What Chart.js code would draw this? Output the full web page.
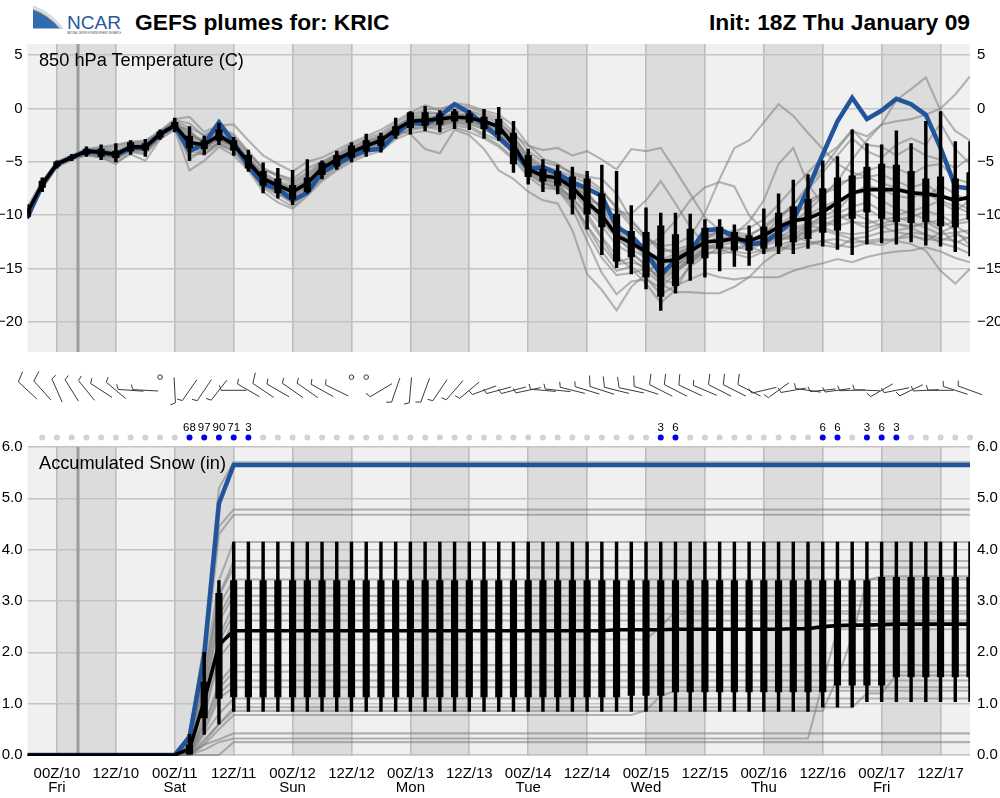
<!DOCTYPE html>
<html><head><meta charset="utf-8">
<style>
html,body{margin:0;padding:0;background:#fff;width:1000px;height:798px;overflow:hidden;font-family:"Liberation Sans",Arial,sans-serif}
canvas{position:absolute;left:0}
.t{position:absolute;color:#000;white-space:nowrap}
</style>
<script src="https://cdn.jsdelivr.net/npm/chart.js@4/dist/chart.umd.min.js"></script>
</head><body>
<svg style="position:absolute;left:33px;top:5px" width="92" height="32" viewBox="0 0 92 32">
<path d="M0,1 Q18,7 30,23.5 L0,23.5 Z" fill="#2f6db0"/>
<path d="M0,1 Q18,7 30,23.5 L27,23.5 Q15,9 0,4 Z" fill="#d5e4f2"/>
<path d="M0,4.5 Q15,9.5 26.5,23" fill="none" stroke="#e9a15c" stroke-width="1"/>
<text x="34" y="24" font-family="Liberation Sans" font-size="19" textLength="54" lengthAdjust="spacingAndGlyphs" fill="#2a5a9a">NCAR</text>
<text x="34" y="28.5" font-family="Liberation Sans" font-size="3.2" textLength="54" lengthAdjust="spacingAndGlyphs" fill="#444">NATIONAL CENTER FOR ATMOSPHERIC RESEARCH</text>
</svg>
<div class="t" style="left:135px;top:8px;font-size:22.8px;font-weight:bold;line-height:28px">GEFS plumes for: KRIC</div>
<div class="t" style="right:30px;top:8px;font-size:22.8px;font-weight:bold;line-height:28px">Init: 18Z Thu January 09</div>
<canvas id="top" width="1000" height="340" style="top:27.5px"></canvas>
<canvas id="mid" width="1000" height="86" style="top:360px"></canvas>
<canvas id="bot" width="1000" height="368" style="top:431px"></canvas>
<div class="t" style="left:39px;top:50px;font-size:18.2px;line-height:20px;z-index:3">850 hPa Temperature (C)</div>
<div class="t" style="left:39px;top:453px;font-size:18.2px;line-height:20px;z-index:3">Accumulated Snow (in)</div>
<script>
const tickIndex=[2,6,10,14,18,22,26,30,34,38,42,46,50,54,58,62];
const tickLabels=[["00Z/10","Fri"],["12Z/10"],["00Z/11","Sat"],["12Z/11"],["00Z/12","Sun"],["12Z/12"],["00Z/13","Mon"],["12Z/13"],["00Z/14","Tue"],["12Z/14"],["00Z/15","Wed"],["12Z/15"],["00Z/16","Thu"],["12Z/16"],["00Z/17","Fri"],["12Z/17"]];
const dayBandStart=[2,10,18,26,34,42,50,58];
const dayBandEnd=[6,14,22,30,38,46,54,62];
const nowIndex=3.43;
const tempTicks=[5,0,-5,-10,-15,-20];
const snowTicks=[0,1,2,3,4,5,6];

const tempControl=[-10.2,-7.2,-5.2,-4.6,-4.0,-4.1,-4.4,-3.7,-3.7,-2.4,-1.6,-4.0,-3.3,-1.3,-3.2,-5.4,-7.1,-7.5,-8.6,-7.9,-6.0,-5.2,-4.5,-3.9,-3.8,-2.4,-1.3,-1.5,-0.7,0.4,-0.4,-1.5,-2.7,-4.0,-5.7,-5.5,-6.1,-6.9,-7.5,-8.2,-11.1,-11.9,-13.4,-15.6,-14.2,-13.4,-11.4,-11.3,-12.0,-12.7,-12.6,-11.6,-10.5,-7.5,-4.3,-1.2,1.0,-1.0,-0.2,0.9,0.4,-0.6,-3.7,-7.3,-7.5];
const tempMedian=[-9.7,-7.1,-5.2,-4.6,-4.0,-4.1,-4.3,-3.6,-3.6,-2.4,-1.6,-3.2,-3.4,-2.5,-3.4,-5.0,-6.6,-7.2,-7.8,-7.0,-5.6,-4.8,-4.1,-3.5,-3.0,-2.0,-1.2,-1.1,-1.0,-0.8,-0.9,-1.2,-1.7,-3.4,-5.7,-6.3,-6.5,-7.4,-8.8,-10.0,-11.9,-12.6,-13.4,-14.3,-14.2,-13.4,-12.5,-12.4,-12.2,-12.4,-11.9,-11.1,-10.5,-10.3,-9.7,-8.8,-7.9,-7.6,-7.6,-7.6,-7.9,-8.0,-8.2,-8.6,-8.3];
const tempBoxLow=[-10.1,-7.4,-5.4,-4.7,-4.3,-4.5,-4.6,-4.0,-3.9,-2.7,-1.9,-3.7,-3.8,-3.0,-3.9,-5.6,-7.2,-7.9,-8.5,-7.8,-6.2,-5.4,-4.6,-4.0,-3.5,-2.5,-1.8,-1.6,-1.5,-1.2,-1.3,-1.9,-2.4,-5.2,-6.4,-6.8,-7.2,-8.5,-9.9,-11.1,-14.3,-13.9,-15.8,-17.6,-16.6,-14.5,-14.0,-13.1,-13.3,-13.3,-13.1,-12.9,-12.5,-12.2,-11.6,-11.4,-10.3,-9.7,-10.3,-10.6,-10.7,-10.6,-11.0,-11.1,-10.4];
const tempBoxHigh=[-9.4,-6.8,-5.0,-4.5,-3.8,-3.8,-4.0,-3.2,-3.3,-2.2,-1.3,-2.6,-3.0,-2.0,-3.0,-4.4,-5.9,-6.6,-7.2,-6.5,-5.1,-4.4,-3.5,-3.0,-2.6,-1.7,-0.4,-0.4,-0.5,-0.3,-0.5,-0.8,-1.0,-2.3,-4.4,-5.7,-5.9,-6.4,-6.6,-8.0,-9.9,-11.5,-11.6,-11.0,-11.8,-11.3,-11.2,-11.1,-11.6,-11.9,-11.1,-9.8,-9.2,-8.5,-7.5,-6.5,-6.3,-5.5,-5.2,-5.3,-5.9,-6.6,-6.4,-6.6,-6.0];
const tempWhiskLow=[-10.3,-7.8,-5.6,-4.9,-4.5,-4.8,-5.0,-4.3,-4.5,-2.9,-2.2,-4.9,-4.3,-3.4,-4.4,-5.9,-7.9,-8.4,-9.0,-7.9,-6.6,-5.7,-5.0,-4.5,-4.1,-2.8,-2.4,-2.1,-2.2,-1.9,-2.0,-2.8,-3.0,-6.0,-7.1,-7.8,-8.0,-9.9,-11.3,-13.7,-14.9,-15.5,-16.9,-18.9,-17.3,-16.1,-15.8,-15.2,-14.8,-14.7,-13.6,-13.6,-13.6,-13.1,-12.9,-13.2,-13.7,-12.7,-12.6,-12.7,-12.5,-12.8,-12.9,-13.4,-13.8];
const tempWhiskHigh=[-9.0,-6.5,-4.9,-4.3,-3.6,-3.4,-3.3,-3.0,-2.9,-2.0,-0.9,-1.7,-2.6,-1.4,-2.7,-3.9,-5.1,-5.6,-5.8,-4.8,-4.9,-4.0,-3.2,-2.4,-2.3,-0.9,-0.3,0.2,-0.2,0.0,-0.2,0.0,0.1,-1.2,-3.8,-4.8,-5.3,-5.5,-5.9,-5.3,-5.9,-9.1,-9.3,-9.8,-9.8,-9.9,-10.4,-10.4,-10.9,-11.0,-9.4,-8.0,-6.7,-6.2,-4.9,-4.5,-2.0,-3.3,-3.4,-2.1,-3.3,-1.2,-0.3,-3.1,-3.1];

const tempMember1=[-9.2,-6.8,-5.0,-4.4,-3.8,-3.6,-3.4,-3.1,-3.0,-2.1,-1.0,-0.8,-2.2,-1.6,-1.5,-3.0,-4.4,-5.2,-5.9,-5.0,-4.6,-3.9,-3.2,-2.6,-2.0,-1.2,-0.4,0.3,-0.2,0.5,0.3,-0.2,-0.6,-1.6,-3.4,-4.7,-5.2,-6.2,-6.6,-7.6,-9.4,-11.0,-12.2,-12.9,-12.7,-12.0,-9.8,-6.6,-3.7,-3.0,-1.3,0.4,-0.7,-2.3,-3.8,-5.2,-6.0,-6.4,-6.2,-6.8,-7.4,-7.0,-8.2,-8.8,-9.5];
const tempMember2=[-9.6,-7.0,-5.1,-4.5,-4.0,-3.9,-4.0,-3.5,-3.4,-2.3,-1.4,-2.6,-2.9,-2.0,-2.8,-4.2,-5.8,-6.2,-6.8,-6.0,-5.0,-4.4,-3.7,-3.0,-2.7,-1.7,-0.9,-0.6,-0.4,-0.2,-0.3,-0.8,-1.4,-2.4,-3.5,-3.9,-3.7,-4.4,-4.0,-4.8,-5.7,-3.8,-4.0,-3.7,-5.8,-8.0,-10.2,-11.4,-12.3,-12.6,-12.2,-11.6,-10.8,-10.0,-9.2,-8.6,-8.0,-7.8,-8.6,-9.4,-9.8,-10.4,-11.0,-10.6,-10.2];
const tempMember3=[-10.0,-7.3,-5.3,-4.7,-4.2,-4.3,-4.7,-3.9,-3.9,-2.6,-1.8,-4.4,-4.2,-3.2,-3.8,-5.4,-7.2,-7.9,-8.7,-7.6,-6.2,-5.2,-4.6,-4.0,-3.4,-2.4,-1.6,-1.3,-1.2,-1.0,-1.2,-1.6,-2.2,-3.2,-5.6,-6.6,-7.0,-8.6,-11.6,-14.0,-15.6,-15.4,-15.0,-14.8,-14.0,-13.2,-12.4,-12.2,-12.0,-12.2,-12.0,-11.2,-10.6,-9.6,-8.2,-6.8,-4.8,-3.0,-1.5,0.8,1.8,2.9,-0.2,-2.1,-3.0];
const tempMember4=[-9.8,-7.1,-5.2,-4.6,-4.1,-4.0,-4.2,-3.6,-3.7,-2.5,-1.5,-3.0,-3.6,-2.8,-3.4,-4.8,-6.4,-7.0,-7.4,-6.8,-5.4,-4.6,-4.0,-3.4,-2.9,-2.1,-1.4,-1.0,-1.1,-0.4,-0.6,-1.0,-1.8,-3.0,-4.8,-6.0,-6.4,-7.0,-8.0,-9.4,-11.0,-12.2,-13.4,-14.0,-14.6,-14.2,-13.0,-12.8,-12.6,-12.4,-11.8,-10.4,-9.0,-7.2,-5.6,-3.8,-2.1,-2.6,-1.5,-1.2,-1.0,-0.6,0.0,1.3,3.0];
const tempMember5=[-10.2,-7.5,-5.5,-4.8,-4.4,-4.6,-5.0,-4.3,-4.9,-2.9,-2.0,-5.8,-4.9,-3.6,-4.4,-5.8,-7.8,-8.8,-9.4,-8.2,-6.8,-5.8,-5.0,-4.4,-4.0,-2.9,-2.3,-2.1,-2.4,-1.8,-2.2,-2.8,-3.6,-4.8,-6.4,-7.4,-7.6,-9.4,-12.4,-15.4,-17.4,-16.2,-16.0,-16.8,-15.4,-14.2,-13.4,-13.6,-13.4,-13.6,-13.2,-13.0,-13.2,-12.8,-12.4,-12.2,-12.6,-12.4,-12.2,-12.4,-12.7,-13.3,-15.2,-16.4,-15.0];
const tempMember6=[-9.9,-7.2,-5.3,-4.7,-4.3,-4.4,-4.8,-4.0,-4.2,-2.7,-1.7,-3.4,-4.4,-3.0,-3.6,-5.2,-7.0,-8.0,-8.9,-7.9,-6.4,-5.4,-4.7,-4.1,-3.6,-2.6,-2.0,-1.8,-1.7,-1.4,-1.6,-2.4,-3.0,-4.2,-6.0,-6.8,-7.4,-8.8,-11.0,-13.4,-15.2,-14.8,-15.8,-17.4,-16.6,-16.0,-15.4,-15.8,-16.0,-15.8,-15.8,-15.8,-15.2,-14.8,-14.5,-14.1,-14.4,-13.9,-13.6,-13.4,-13.3,-13.0,-13.4,-14.0,-14.4];
const tempMember7=[-10.1,-7.4,-5.4,-4.6,-4.2,-4.5,-4.5,-3.8,-3.7,-2.6,-1.6,-3.8,-3.9,-2.4,-3.2,-5.0,-6.8,-7.6,-8.4,-7.4,-6.0,-5.0,-4.4,-3.7,-3.2,-2.3,-1.6,-1.5,-1.6,-1.2,-1.4,-2.0,-2.6,-4.0,-5.8,-6.6,-7.2,-8.4,-10.2,-12.2,-14.4,-14.0,-15.2,-16.4,-17.2,-17.2,-17.3,-17.3,-16.7,-15.8,-14.4,-13.4,-12.8,-12.6,-12.4,-12.8,-13.0,-12.6,-12.4,-12.2,-12.0,-12.2,-12.4,-11.8,-12.2];
const tempMember8=[-9.7,-7.0,-5.1,-4.5,-4.0,-4.2,-4.3,-3.6,-3.5,-2.4,-1.3,-2.2,-3.3,-2.6,-3.0,-4.6,-6.2,-7.2,-8.0,-7.2,-5.8,-4.9,-4.2,-3.6,-3.1,-2.0,-2.4,-3.8,-4.2,-2.0,-2.5,-3.8,-5.8,-6.6,-7.8,-8.6,-8.9,-11.4,-15.5,-17.0,-18.9,-16.7,-15.5,-14.2,-13.6,-13.0,-12.6,-12.2,-12.4,-13.0,-13.4,-13.2,-12.6,-11.8,-11.0,-10.2,-9.8,-10.4,-11.0,-11.6,-11.8,-12.4,-11.6,-11.0,-11.8];
const tempMember9=[-9.5,-6.9,-5.0,-4.4,-3.9,-3.8,-3.7,-3.3,-3.2,-2.2,-1.2,-1.8,-2.5,-1.8,-2.4,-4.0,-5.6,-6.4,-7.0,-6.2,-5.2,-4.4,-3.6,-3.0,-2.5,-1.6,-1.0,-0.8,-0.7,-0.5,-0.7,-1.2,-1.9,-3.0,-5.0,-6.4,-6.6,-7.6,-8.6,-9.0,-9.6,-9.9,-8.6,-6.8,-8.9,-11.1,-12.8,-13.2,-13.6,-14.0,-13.4,-12.8,-12.4,-11.0,-10.0,-9.6,-8.0,-7.2,-7.6,-8.2,-8.4,-7.8,-8.8,-9.6,-8.6];
const tempMember10=[-9.9,-7.2,-5.2,-4.6,-4.1,-4.1,-4.4,-3.7,-3.6,-2.5,-1.6,-3.2,-3.7,-2.6,-3.6,-5.0,-6.6,-7.4,-7.9,-7.0,-5.6,-4.8,-4.2,-3.5,-3.0,-2.0,-1.2,-1.1,-0.9,-0.7,-0.9,-1.4,-2.0,-3.4,-5.4,-6.2,-6.6,-7.4,-8.8,-10.2,-11.8,-13.0,-13.0,-12.0,-10.5,-8.6,-7.4,-6.9,-7.3,-10.0,-11.4,-12.2,-12.2,-11.6,-11.2,-10.4,-9.8,-9.4,-10.2,-10.8,-11.2,-10.6,-11.4,-12.6,-12.0];
const tempMember11=[-10.0,-7.3,-5.3,-4.7,-4.2,-4.2,-4.6,-3.8,-3.8,-2.5,-1.8,-3.6,-3.4,-2.7,-3.6,-5.4,-7.0,-7.6,-8.2,-7.4,-5.8,-5.0,-4.3,-3.8,-3.2,-2.3,-1.5,-1.4,-1.3,-1.0,-1.0,-1.6,-2.4,-3.6,-5.6,-6.4,-7.0,-7.8,-9.0,-10.6,-12.2,-13.2,-14.0,-15.6,-15.0,-14.2,-13.2,-12.8,-11.8,-10.6,-8.6,-5.2,-3.7,-7.1,-9.0,-9.8,-9.2,-8.8,-9.6,-10.0,-9.6,-9.2,-8.6,-9.2,-9.8];
const tempMember12=[-9.8,-7.1,-5.2,-4.6,-4.0,-4.0,-4.1,-3.5,-3.4,-2.3,-1.5,-2.8,-3.0,-2.2,-3.0,-4.6,-6.0,-6.8,-7.2,-6.4,-5.2,-4.6,-3.9,-3.2,-2.8,-1.8,-0.8,-0.3,-0.5,0.0,-0.2,-0.6,-1.2,-2.6,-4.6,-5.6,-6.0,-6.8,-7.8,-9.6,-11.4,-12.4,-13.6,-15.0,-14.6,-13.8,-12.6,-12.0,-12.2,-12.6,-12.8,-12.4,-11.8,-11.0,-10.6,-11.0,-10.6,-10.8,-10.4,-10.2,-10.6,-11.2,-11.8,-11.6,-11.4];
const tempMember13=[-9.6,-7.0,-5.1,-4.5,-4.0,-3.9,-4.0,-3.4,-3.3,-2.3,-1.4,-2.4,-3.1,-2.3,-3.2,-4.7,-6.2,-6.9,-7.5,-6.6,-5.3,-4.5,-3.8,-3.2,-2.7,-1.9,-1.1,-0.9,-0.8,-0.6,-0.8,-1.1,-1.7,-2.8,-4.4,-5.4,-5.8,-6.4,-7.0,-7.8,-9.2,-10.6,-12.0,-13.4,-13.2,-12.8,-12.0,-11.6,-11.6,-11.8,-11.2,-10.2,-9.0,-7.6,-6.0,-4.4,-2.8,-4.0,-4.6,-3.4,-2.8,-3.4,-1.4,-3.8,-5.2];
const tempMember14=[-10.2,-7.4,-5.4,-4.7,-4.3,-4.6,-5.2,-4.1,-4.3,-2.8,-1.9,-4.0,-4.3,-3.4,-4.0,-5.6,-7.4,-8.4,-9.2,-8.0,-6.6,-5.6,-4.8,-4.2,-3.7,-2.7,-1.9,-1.7,-2.0,-1.6,-1.8,-2.6,-3.4,-4.6,-6.2,-7.0,-7.6,-9.0,-11.0,-12.8,-14.6,-14.4,-14.8,-16.0,-16.4,-14.8,-13.8,-13.0,-13.0,-13.2,-12.6,-12.0,-11.8,-11.6,-11.4,-11.8,-12.2,-12.6,-12.8,-12.2,-11.6,-11.8,-12.6,-13.0,-13.6];
const tempMember15=[-9.7,-7.1,-5.2,-4.5,-4.1,-4.1,-4.2,-3.6,-3.6,-2.4,-1.7,-3.0,-3.2,-2.9,-3.3,-4.9,-6.6,-7.2,-7.6,-6.8,-5.6,-4.7,-4.0,-3.4,-2.9,-2.0,-1.3,-1.2,-1.0,-0.9,-1.0,-1.3,-2.0,-3.2,-5.2,-5.8,-6.2,-7.0,-8.4,-10.0,-11.6,-12.6,-14.0,-15.2,-14.8,-13.6,-12.2,-11.4,-11.8,-12.0,-11.0,-10.0,-9.4,-8.6,-8.0,-7.4,-6.4,-5.8,-5.4,-5.6,-6.2,-5.4,-5.2,-6.6,-7.0];
const tempMember16=[-10.0,-7.2,-5.3,-4.6,-4.1,-4.3,-4.4,-3.7,-3.9,-2.5,-1.6,-3.2,-3.8,-2.8,-3.5,-5.1,-6.8,-7.5,-8.1,-7.1,-5.7,-4.9,-4.2,-3.6,-3.1,-2.2,-1.4,-1.6,-1.5,-1.1,-1.1,-1.8,-2.6,-3.8,-5.8,-6.6,-6.9,-7.8,-9.4,-11.0,-12.8,-13.6,-14.6,-16.2,-15.2,-14.4,-13.6,-13.4,-13.0,-12.8,-12.2,-11.6,-11.2,-10.8,-10.4,-10.0,-10.6,-11.2,-10.8,-10.4,-10.2,-9.6,-10.0,-10.8,-10.6];
const tempMember17=[-9.4,-6.9,-5.1,-4.4,-3.9,-3.7,-3.5,-3.2,-3.1,-2.2,-1.1,-1.4,-2.6,-1.9,-2.6,-4.2,-5.6,-6.2,-6.6,-5.6,-5.0,-4.2,-3.4,-2.8,-2.3,-1.4,-0.6,-0.1,0.0,0.2,0.1,-0.4,-0.9,-2.2,-4.0,-5.0,-5.4,-6.0,-6.4,-6.6,-8.0,-10.4,-12.0,-13.0,-13.6,-13.0,-12.2,-11.8,-11.4,-11.2,-10.4,-9.0,-7.4,-6.0,-4.6,-3.6,-2.0,-3.4,-3.6,-4.4,-3.6,-4.4,-4.8,-5.6,-4.6];
const tempMember18=[-10.1,-7.3,-5.4,-4.7,-4.3,-4.4,-4.6,-3.9,-4.0,-2.7,-1.8,-4.8,-3.8,-3.3,-4.0,-5.6,-7.4,-8.0,-8.6,-7.7,-6.2,-5.3,-4.5,-3.9,-3.5,-2.5,-1.8,-1.4,-1.4,-1.3,-1.4,-1.9,-2.8,-4.0,-6.0,-7.0,-7.4,-8.4,-9.8,-12.0,-13.8,-15.0,-16.4,-18.2,-17.0,-14.6,-13.2,-13.0,-13.2,-12.8,-12.4,-12.0,-11.4,-11.0,-11.2,-11.6,-11.8,-11.6,-11.0,-10.8,-11.0,-10.8,-10.4,-11.4,-12.8];
const tempMember19=[-9.8,-7.1,-5.2,-4.6,-4.0,-4.1,-4.3,-3.7,-3.5,-2.4,-1.6,-2.0,-3.4,-2.5,-3.3,-4.9,-6.4,-7.1,-7.7,-6.9,-5.5,-4.7,-4.1,-3.3,-2.9,-2.2,-1.1,-0.9,-1.0,-0.8,-0.6,-1.1,-1.6,-2.6,-4.6,-5.8,-6.4,-7.2,-8.2,-9.2,-10.6,-12.4,-13.8,-14.6,-13.8,-13.2,-11.8,-11.6,-12.2,-12.4,-11.6,-11.0,-10.0,-9.0,-8.0,-7.0,-6.6,-6.4,-7.0,-7.4,-7.8,-8.4,-7.2,-8.0,-8.8];
const tempMember20=[-10.0,-7.3,-5.3,-4.6,-4.1,-4.2,-4.4,-3.8,-3.8,-2.5,-1.7,-3.3,-3.5,-3.0,-3.5,-5.2,-6.9,-7.6,-8.0,-7.2,-5.9,-4.9,-4.2,-3.7,-3.2,-2.2,-1.5,-1.3,-1.4,-0.9,-1.1,-1.7,-2.3,-3.6,-5.2,-6.2,-6.8,-7.6,-8.6,-10.4,-12.0,-13.4,-14.8,-15.8,-15.2,-14.0,-13.0,-12.6,-12.4,-12.6,-12.6,-12.2,-12.0,-12.4,-12.8,-13.0,-12.2,-12.0,-11.6,-11.4,-11.2,-11.8,-12.2,-12.4,-13.0];
const tempMembers=[tempMember1,tempMember2,tempMember3,tempMember4,tempMember5,tempMember6,tempMember7,tempMember8,tempMember9,tempMember10,tempMember11,tempMember12,tempMember13,tempMember14,tempMember15,tempMember16,tempMember17,tempMember18,tempMember19,tempMember20];

const windDirection=[313,318,336,328,321,303,310,274,273,0,177,215,214,218,270,300,304,300,305,305,299,296,0,0,239,199,185,200,214,221,230,250,255,255,258,275,276,284,287,288,284,282,288,297,297,295,293,297,297,297,257,234,260,278,264,262,268,272,240,259,244,267,270,288,290];
const windSpeed=[10,10,5,5,5,5,5,5,5,0,5,5,5,5,5,5,10,5,5,5,5,5,0,0,5,5,5,5,5,5,5,5,5,5,5,5,5,5,5,10,10,10,10,10,10,10,5,10,10,10,5,5,5,5,5,5,5,5,5,5,5,5,5,5,5];
const snowChance=[null,0,0,0,0,0,0,0,0,0,0,68,97,90,71,3,0,0,0,0,0,0,0,0,0,0,0,0,0,0,0,0,0,0,0,0,0,0,0,0,0,0,0,3,6,0,0,0,0,0,0,0,0,0,6,6,0,3,6,3,0,0,0,0,0];

const snowControl=[0,0,0,0,0,0,0,0,0,0,0,0.35,1.95,4.9,5.65,5.65,5.65,5.65,5.65,5.65,5.65,5.65,5.65,5.65,5.65,5.65,5.65,5.65,5.65,5.65,5.65,5.65,5.65,5.65,5.65,5.65,5.65,5.65,5.65,5.65,5.65,5.65,5.65,5.65,5.65,5.65,5.65,5.65,5.65,5.65,5.65,5.65,5.65,5.65,5.65,5.65,5.65,5.65,5.65,5.65,5.65,5.65,5.65,5.65,5.65];
const snowMedian=[0,0,0,0,0,0,0,0,0,0,0,0.12,1.05,2.15,2.42,2.42,2.42,2.42,2.42,2.42,2.42,2.42,2.42,2.42,2.42,2.42,2.42,2.42,2.42,2.42,2.42,2.42,2.42,2.42,2.42,2.42,2.42,2.42,2.42,2.42,2.44,2.44,2.44,2.44,2.45,2.45,2.45,2.45,2.45,2.45,2.45,2.45,2.46,2.46,2.5,2.52,2.53,2.53,2.54,2.55,2.55,2.55,2.55,2.55,2.55];
const snowBoxLow=[0,0,0,0,0,0,0,0,0,0,0,0,0.72,1.1,1.13,1.13,1.13,1.13,1.13,1.13,1.13,1.13,1.13,1.13,1.13,1.13,1.13,1.13,1.13,1.13,1.13,1.13,1.13,1.13,1.13,1.13,1.13,1.13,1.13,1.13,1.13,1.16,1.16,1.16,1.23,1.23,1.23,1.23,1.23,1.23,1.23,1.23,1.23,1.23,1.23,1.36,1.36,1.36,1.36,1.52,1.52,1.52,1.52,1.52,1.52];
const snowBoxHigh=[0,0,0,0,0,0,0,0,0,0,0,0.2,1.42,3.15,3.4,3.4,3.4,3.4,3.4,3.4,3.4,3.4,3.4,3.4,3.4,3.4,3.4,3.4,3.4,3.4,3.4,3.4,3.4,3.4,3.4,3.4,3.4,3.4,3.4,3.4,3.4,3.4,3.4,3.4,3.4,3.4,3.4,3.4,3.4,3.4,3.4,3.4,3.4,3.4,3.4,3.4,3.4,3.4,3.46,3.46,3.46,3.46,3.46,3.46,3.46];
const snowWhiskLow=[0,0,0,0,0,0,0,0,0,0,0,0,0.4,0.6,0.85,0.85,0.85,0.85,0.85,0.85,0.85,0.85,0.85,0.85,0.85,0.85,0.85,0.85,0.85,0.85,0.85,0.85,0.85,0.85,0.85,0.85,0.85,0.85,0.85,0.85,0.85,0.85,0.85,0.85,0.85,0.85,0.85,0.85,0.85,0.85,0.85,0.85,0.85,0.85,0.93,0.93,0.93,1.04,1.04,1.04,1.04,1.04,1.04,1.04,1.04];
const snowWhiskHigh=[0,0,0,0,0,0,0,0,0,0,0,0.4,2.0,3.4,4.15,4.15,4.15,4.15,4.15,4.15,4.15,4.15,4.15,4.15,4.15,4.15,4.15,4.15,4.15,4.15,4.15,4.15,4.15,4.15,4.15,4.15,4.15,4.15,4.15,4.15,4.15,4.15,4.15,4.15,4.15,4.15,4.15,4.15,4.15,4.15,4.15,4.15,4.15,4.15,4.15,4.15,4.15,4.15,4.15,4.15,4.15,4.15,4.15,4.15,4.15];

// Members: values at steps 11,12,13,14; the total then holds until a listed later step.
const snowRise=[[0.4,2.2,5.2,5.7],[0.3,2.0,4.45,4.78],[0.25,1.7,4.3,4.68],[0.2,1.6,3.4,4.15],[0.2,1.5,3.1,3.78],[0.15,1.4,3.1,3.65],[0.15,1.3,2.9,3.42],[0.1,1.2,2.7,3.25],[0.1,1.1,2.6,3.1],[0.1,1.0,2.3,2.92],[0.1,1.0,2.2,2.75],[0.05,0.8,2.0,2.62],[0.05,0.7,1.9,2.25],[0.05,0.6,1.4,1.75],[0.05,0.6,1.3,1.62],[0.03,0.5,1.2,1.45],[0.03,0.45,1.1,1.32],[0,0.4,0.8,1.1],[0,0.3,0.6,0.86],[0,0.2,0.3,0.42],[0,0.1,0.25,0.32],[0,0,0,0.25],[0,0.25,0.6,0.93],[0,0.2,0.5,0.78]];
const snowLater={12:{43:2.5,44:2.8},18:{55:1.5,56:2.3,57:3.4,58:3.48},20:{54:1.4,55:2.45},22:{57:1.2,59:1.55},23:{42:0.87,43:1.15,44:1.25}};

const steps=tempMedian.map((_,i)=>i);
function xy(a){return a.map((v,i)=>({x:i,y:v}));}
function range(lo,hi){return lo.map((v,i)=>({x:i,y:[v,hi[i]]}));}
function snowSeries(k){
  const out=[];let cur=0;const r=snowRise[k],l=snowLater[k]||{};
  for(const i of steps){
    if(i>=11&&i<=14)cur=r[i-11];
    if(l[i]!==undefined)cur=l[i];
    out.push(cur);
  }
  return out;
}
function panelSets(members,control,median,bl,bh,wl,wh){
  const d=members.map(m=>({type:'line',data:xy(m),borderColor:'rgba(125,125,125,0.55)',borderWidth:2.1,pointRadius:0,order:6}));
  d.push({type:'line',data:xy(control),borderColor:'#20549b',borderWidth:4.5,pointRadius:0,order:5});
  d.push({type:'bar',data:range(wl,wh),backgroundColor:'#000',barThickness:2.8,grouped:false,order:4});
  d.push({type:'bar',data:range(bl,bh),backgroundColor:'#000',barThickness:6.5,grouped:false,order:3});
  d.push({type:'line',data:xy(median),borderColor:'#000',borderWidth:3.6,pointRadius:0,order:2});
  return d;
}
const backdrop={id:'backdrop',
  beforeDraw(c){const a=c.chartArea,x=c.scales.x,g=c.ctx;g.save();g.fillStyle='#f0f0f0';g.fillRect(a.left,a.top,a.right-a.left,a.bottom-a.top);
    g.fillStyle='#dcdcdc';dayBandStart.forEach((s,k)=>{const p=x.getPixelForValue(s),q=x.getPixelForValue(dayBandEnd[k]);g.fillRect(p,a.top,q-p,a.bottom-a.top);});g.restore();},
  beforeDatasetsDraw(c){const a=c.chartArea,g=c.ctx,p=c.scales.x.getPixelForValue(nowIndex);g.save();g.strokeStyle='#9c9c9c';g.lineWidth=3;g.beginPath();g.moveTo(p,a.top);g.lineTo(p,a.bottom);g.stroke();g.restore();}
};
const tickFont={family:'"Liberation Sans"',size:15};
function panelOptions(ymin,ymax,yTicks,fmt,padding,xLabels,xH){
  const yCommon=s=>({type:'linear',min:ymin,max:ymax,position:s,border:{display:false},
    afterBuildTicks(a){a.ticks=yTicks.map(v=>({value:v}));},
    afterFit(a){a.width=s==='left'?27.5:30;},
    grid:{display:s==='left',color:'#c3c3c3',lineWidth:1.6,drawTicks:false},
    ticks:{color:'#000',font:tickFont,padding:s==='left'?5:7,callback:fmt}});
  return {responsive:false,animation:false,devicePixelRatio:1,layout:{padding},
    plugins:{legend:{display:false},tooltip:{enabled:false}},
    scales:{
      x:{type:'linear',min:0,max:64,offset:false,border:{display:false},
        afterBuildTicks(a){a.ticks=tickIndex.map(v=>({value:v}));},
        afterFit(a){a.height=xH;},
        grid:{offset:false,color:'#bdbdbd',lineWidth:1.6,drawTicks:false},
        ticks:{display:xLabels,autoSkip:false,maxRotation:0,minRotation:0,padding:11,color:'#000',font:{...tickFont,lineHeight:0.93},
          callback(v){const k=tickIndex.indexOf(v);return k<0?'':tickLabels[k];}}},
      y:yCommon('left'),yr:yCommon('right')
    }};
}
new Chart(document.getElementById('top'),{type:'line',
  data:{datasets:panelSets(tempMembers,tempControl,tempMedian,tempBoxLow,tempBoxHigh,tempWhiskLow,tempWhiskHigh)},
  options:panelOptions(-22.8,6.03,tempTicks,v=>String(v).replace('-','\u2212'),{top:16,bottom:16,left:0,right:0},false,0),
  plugins:[backdrop]});
new Chart(document.getElementById('bot'),{type:'line',
  data:{datasets:panelSets(snowRise.map((_,k)=>snowSeries(k)),snowControl,snowMedian,snowBoxLow,snowBoxHigh,snowWhiskLow,snowWhiskHigh)},
  options:panelOptions(-0.02,6,snowTicks,v=>Number(v).toFixed(1),{top:16,bottom:0,left:0,right:0},true,43),
  plugins:[backdrop]});

const BARB_ROW=29,CALM_ROW=14.5,DOT_ROW=81,LABEL_ROW=70.5;
const midDecor={id:'midDecor',afterDatasetsDraw(c){
  const g=c.ctx,x=c.scales.x,y=c.scales.y,cy=y.getPixelForValue(BARB_ROW);
  g.save();g.strokeStyle='#3a3a3a';g.lineWidth=1;g.lineCap='round';
  steps.forEach(i=>{
    const px=x.getPixelForValue(i);
    if(windSpeed[i]===0){g.beginPath();g.arc(px,y.getPixelForValue(CALM_ROW),2.3,0,Math.PI*2);g.stroke();return;}
    const a=windDirection[i]*Math.PI/180,hx=px+Math.sin(a)*12.5,hy=cy-Math.cos(a)*12.5,tx=px-Math.sin(a)*12.5,ty=cy+Math.cos(a)*12.5;
    const f=a+70*Math.PI/180,len=windSpeed[i]>=10?10.5:5;
    g.beginPath();g.moveTo(tx,ty);g.lineTo(hx,hy);g.lineTo(hx+Math.sin(f)*len,hy-Math.cos(f)*len);g.stroke();
  });
  g.fillStyle='#000';g.font='11.5px "Liberation Sans"';g.textAlign='center';g.textBaseline='middle';
  steps.forEach(i=>{if(snowChance[i]>0)g.fillText(String(snowChance[i]),x.getPixelForValue(i),y.getPixelForValue(LABEL_ROW));});
  g.restore();
}};
const dotSteps=steps.filter(i=>snowChance[i]!==null);
new Chart(document.getElementById('mid'),{type:'scatter',
  data:{datasets:[{data:dotSteps.map(i=>({x:i,y:DOT_ROW})),clip:false,
    pointRadius:3,pointBorderWidth:0,
    pointBackgroundColor:dotSteps.map(i=>snowChance[i]>0?'#0000e6':'#d2d2d2')}]},
  options:{responsive:false,animation:false,devicePixelRatio:1,layout:{padding:{left:27.5,right:30,top:0,bottom:0}},
    plugins:{legend:{display:false},tooltip:{enabled:false}},
    scales:{x:{type:'linear',min:0,max:64,display:false},y:{type:'linear',min:0,max:86,reverse:true,display:false}}},
  plugins:[midDecor]});
</script>
</body></html>
